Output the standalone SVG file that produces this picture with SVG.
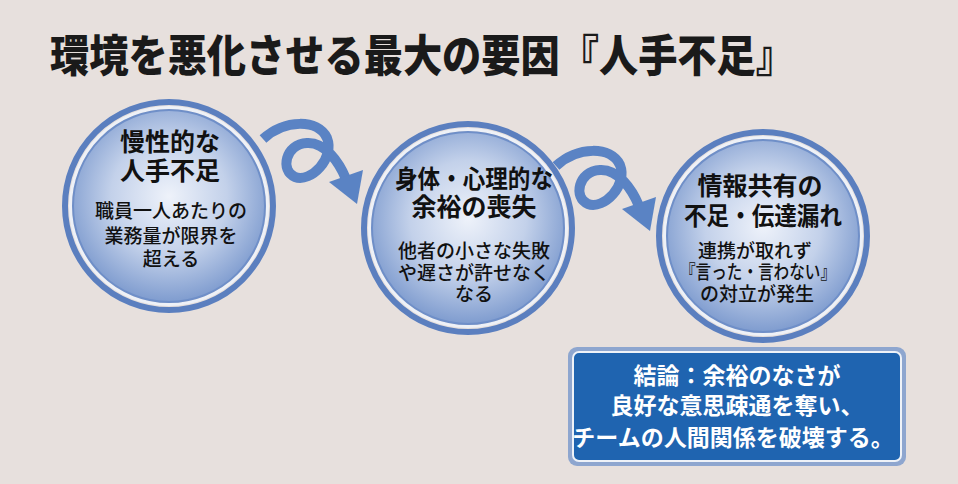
<svg xmlns="http://www.w3.org/2000/svg" width="958" height="484" viewBox="0 0 958 484">
<defs>
<radialGradient id="cg" cx="50%" cy="45%" r="55%">
<stop offset="0" stop-color="#eef2fa"/>
<stop offset="0.55" stop-color="#c3d1ea"/>
<stop offset="1" stop-color="#7f9ccf"/>
</radialGradient>
<g id="ring">
<circle r="104" fill="none" stroke="#5b7fbf" stroke-width="6"/>
<circle r="98.5" fill="none" stroke="#eef1f7" stroke-width="3"/>
<circle r="96" fill="url(#cg)" stroke="#6f8fc8" stroke-width="2"/>
</g>
<g id="curl">
<path d="M 263,139 C 285,119 318,119 327,138 C 335,158 311,183 295,177 C 280,171 285,144 307,143 C 325,142 339,162 346,179" fill="none" stroke="#5a83c4" stroke-width="10" stroke-linecap="butt"/>
<polygon points="329,182 363,170 357,204" fill="#5a83c4"/>
</g>
</defs>
<style>
text{font-family:"Noto Sans CJK JP","Noto Sans CJK SC",sans-serif;text-anchor:middle;fill:#111}
.h{font-size:25px;font-weight:700}
.s{font-size:19px;font-weight:500}
.b{font-size:23px;font-weight:700;fill:#fff}
</style>
<rect width="958" height="484" fill="#e7e0dd"/>
<text x="50" y="72" style="text-anchor:start;font-size:44px;font-weight:900;fill:#1a1a1a" textLength="745" lengthAdjust="spacingAndGlyphs">環境を悪化させる最大の要因『人手不足』</text>
<g id="connectors">
<use href="#curl"/>
<use href="#curl" transform="translate(293,27)"/>
</g>
<g id="node1">
<use href="#ring" x="169" y="206"/>
<text class="h" x="170" y="151">慢性的な</text>
<text class="h" x="170" y="180">人手不足</text>
<text class="s" x="171" y="218">職員一人あたりの</text>
<text class="s" x="171" y="243">業務量が限界を</text>
<text class="s" x="171" y="266">超える</text>
</g>
<g id="node2">
<use href="#ring" x="468" y="228"/>
<text class="h" x="474" y="188" textLength="158" lengthAdjust="spacingAndGlyphs">身体・心理的な</text>
<text class="h" x="474" y="216">余裕の喪失</text>
<text class="s" x="474" y="258">他者の小さな失敗</text>
<text class="s" x="474" y="280">や遅さが許せなく</text>
<text class="s" x="474" y="301">なる</text>
</g>
<g id="node3">
<use href="#ring" x="763" y="236"/>
<text class="h" x="760" y="195">情報共有の</text>
<text class="h" x="763" y="225" textLength="158" lengthAdjust="spacingAndGlyphs">不足・伝達漏れ</text>
<text class="s" x="755" y="258">連携が取れず</text>
<text class="s" x="758" y="279" textLength="156" lengthAdjust="spacingAndGlyphs">『言った・言わない』</text>
<text class="s" x="757" y="301">の対立が発生</text>
</g>
<g id="conclusion">
<rect x="568" y="347" width="338" height="119" rx="9" fill="#8ea6cf"/>
<rect x="573" y="352" width="328" height="109" rx="6" fill="#1f64b0" stroke="#eef2f8" stroke-width="2"/>
<text class="b" x="737" y="384">結論：余裕のなさが</text>
<text class="b" x="737" y="414">良好な意思疎通を奪い、</text>
<text class="b" x="733" y="446">チームの人間関係を破壊する。</text>
</g>
</svg>
